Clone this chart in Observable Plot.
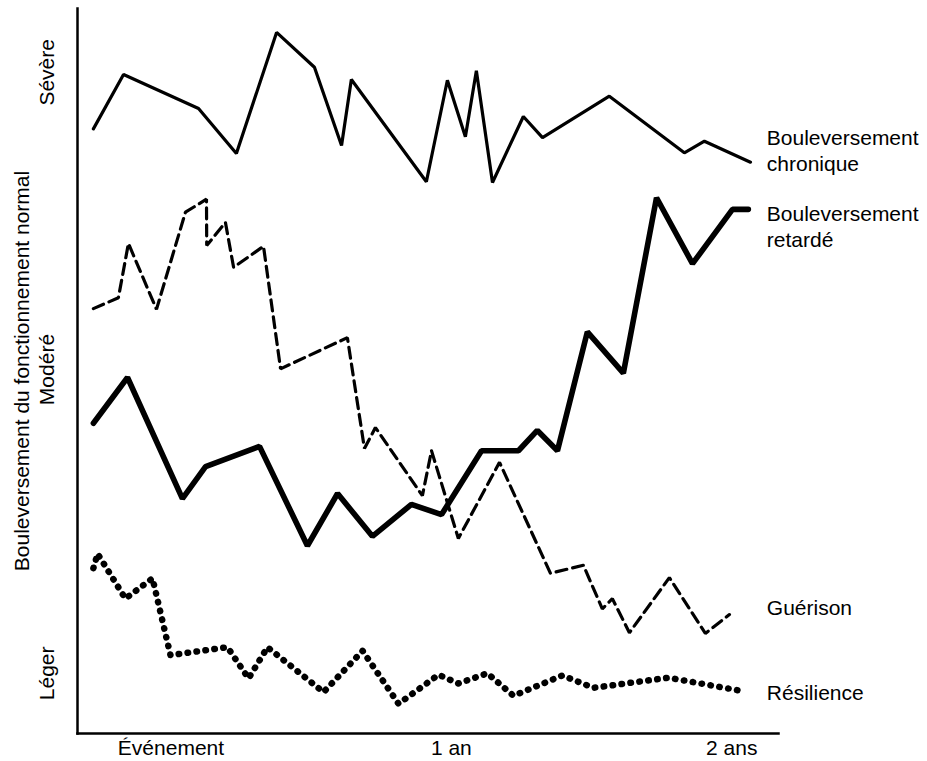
<!DOCTYPE html>
<html><head><meta charset="utf-8">
<script src="https://cdn.jsdelivr.net/npm/d3@7"></script>
<script src="https://cdn.jsdelivr.net/npm/@observablehq/plot@0.6"></script>
<style>
body{margin:0;background:#fff}
#chart svg{overflow:visible}
</style>
</head><body><div id="chart"></div>
<script>
// Temps en mois depuis l'événement ; niveau de bouleversement (0 = aucun, 100 = maximal)
const chroniqueMois   = [-3.32,-2.03,1.18,2.80,4.52,6.14,7.30,7.72,10.93,11.83,12.60,13.07,13.76,15.08,15.90,18.76,21.97,22.83,24.80];
const chroniqueNiveau = [83.4,90.9,86.2,80.0,96.7,91.9,81.1,90.2,76.1,90.1,82.3,91.4,76.0,85.1,82.2,87.9,80.1,81.7,78.8];

const retardeMois   = [-3.32,-1.86,0.49,1.48,3.79,5.84,7.13,8.62,10.29,11.58,13.29,14.87,15.68,16.54,17.82,19.36,20.78,22.32,24.03,24.71];
const retardeNiveau = [42.8,49.1,32.4,36.8,39.6,25.9,33.1,27.2,31.6,30.2,39.0,39.0,41.8,39.0,55.4,49.7,73.9,64.8,72.3,72.3];

const guerisonMois   = [-3.32,-2.25,-1.82,-0.62,0.62,1.52,1.53,2.33,2.68,3.96,4.69,7.55,8.28,8.75,10.76,11.15,12.30,14.06,16.24,17.65,18.46,18.89,19.62,21.33,22.87,23.90];
const guerisonNiveau = [58.6,60.1,67.6,58.5,71.9,73.7,67.3,70.5,64.3,67.2,50.3,54.6,39.3,42.2,32.8,39.0,26.9,37.4,22.1,23.2,17.2,18.6,13.9,21.5,13.8,16.4];

const resilienceMois   = [-3.32,-3.14,-1.95,-0.79,-0.02,2.42,3.32,4.13,6.53,8.20,9.74,11.45,12.30,13.54,14.66,16.75,18.08,21.29,24.37];
const resilienceNiveau = [22.8,24.8,18.6,21.4,10.8,11.9,7.6,11.9,5.7,11.4,4.1,8.1,6.9,8.3,5.2,8.0,6.3,7.7,5.9];

const seriesNoms = ["Bouleversement\nchronique", "Bouleversement\nretardé", "Guérison", "Résilience"];
const etiquetteMois = [25.5, 25.5, 25.5, 25.5];
const etiquetteNiveau = [80.5, 70.0, 17.4, 5.7];

const niveauxNoms = ["Léger", "Modéré", "Sévère"];
const niveauxValeurs = [8.3, 50.2, 91.2];

const tickNoms = ["Événement", "1 an", "2 ans"];
const tickMois = [0, 12, 24];

const titreY = "Bouleversement du fonctionnement normal";

const rows = (m, v) => m.map((x, i) => ({x, y: v[i]}));
const chronique = rows(chroniqueMois, chroniqueNiveau);
const retarde = rows(retardeMois, retardeNiveau);
const guerison = rows(guerisonMois, guerisonNiveau);
const resilience = rows(resilienceMois, resilienceNiveau);
const etiquettes = seriesNoms.map((t, i) => ({t, x: etiquetteMois[i], y: etiquetteNiveau[i]}));
const niveaux = niveauxNoms.map((t, i) => ({t, y: niveauxValeurs[i]}));
const ticks = tickNoms.map((t, i) => ({t, x: tickMois[i]}));

const chart = Plot.plot({
  width: 927,
  height: 761,
  marginLeft: 77,
  marginRight: 149,
  marginTop: 8,
  marginBottom: 28,
  style: {fontSize: "21px", fontFamily: "'Liberation Sans', Arial, sans-serif", color: "#000", background: "#fff"},
  x: {domain: [-4, 26], axis: null},
  y: {domain: [0, 100], axis: null},
  marks: [
    Plot.frame({anchor: "left", stroke: "#000", strokeWidth: 2.5}),
    Plot.frame({anchor: "bottom", stroke: "#000", strokeWidth: 2.5}),
    Plot.line(chronique, {x: "x", y: "y", stroke: "#000", strokeWidth: 3.2, strokeLinejoin: "miter"}),
    Plot.line(retarde, {x: "x", y: "y", stroke: "#000", strokeWidth: 5.6, strokeLinejoin: "miter"}),
    Plot.line(guerison, {x: "x", y: "y", stroke: "#000", strokeWidth: 3.2, strokeDasharray: "11,6", strokeLinejoin: "miter"}),
    Plot.line(resilience, {x: "x", y: "y", stroke: "#000", strokeWidth: 6.5, strokeDasharray: "0.5,8.5", strokeLinecap: "round"}),
    Plot.text(etiquettes, {x: "x", y: "y", text: "t", textAnchor: "start", lineAnchor: "middle", lineHeight: 1.2, fill: "#000"}),
    Plot.text(niveaux, {y: "y", text: "t", frameAnchor: "left", dx: -24, rotate: -90, textAnchor: "middle", lineAnchor: "bottom", fill: "#000"}),
    Plot.text([titreY], {text: d => d, frameAnchor: "left", dx: -49, rotate: -90, textAnchor: "middle", lineAnchor: "bottom", fill: "#000"}),
    Plot.text(ticks, {x: "x", text: "t", frameAnchor: "bottom", dy: 7, textAnchor: "middle", lineAnchor: "top", fill: "#000"})
  ]
});
document.getElementById("chart").append(chart);
</script></body></html>
